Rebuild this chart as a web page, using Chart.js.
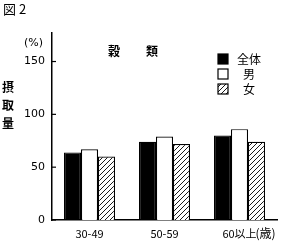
<!DOCTYPE html>
<html>
<head>
<meta charset="utf-8">
<script src="https://cdn.jsdelivr.net/npm/chart.js@4"></script>
<style>
  html, body { margin: 0; padding: 0; background: #fff; }
  #wrap { width: 283px; height: 241px; }
</style>
</head>
<body>
<div id="wrap"><canvas id="chart" width="283" height="241"></canvas></div>
<script>
const categories = ['30-49', '50-59', '60以上'];
const seriesNames = ['全体', '男', '女'];
const totalValues = [64, 74, 80];
const maleValues = [67, 79, 86];
const femaleValues = [60, 72, 74];
const yTicks = [0, 50, 100, 150];

const jpFont = "'Noto Sans CJK JP', sans-serif";
const numFont = "'DejaVu Sans', sans-serif";

// diagonal hatch for 女
const makeHatch = () => {
    const c = document.createElement('canvas');
    c.width = 5; c.height = 5;
    const g = c.getContext('2d');
    g.fillStyle = '#fff';
    g.fillRect(0, 0, 5, 5);
    g.strokeStyle = '#000';
    g.lineWidth = 0.9;
    g.beginPath();
    g.moveTo(0, 5); g.lineTo(5, 0);
    g.moveTo(-1, 1); g.lineTo(1, -1);
    g.moveTo(4, 6); g.lineTo(6, 4);
    g.stroke();
    return document.getElementById('chart').getContext('2d').createPattern(c, 'repeat');
};
const hatch = makeHatch();
const fills = ['#000', '#fff', hatch];

const decorPlugin = {
    id: 'decor',
    afterDraw(chart) {
        const ctx = chart.ctx;
        const y = chart.scales.y;
        const x = chart.scales.x;
        const area = chart.chartArea;
        ctx.save();
        ctx.fillStyle = '#000';
        ctx.strokeStyle = '#000';

        // inward tick marks
        ctx.lineWidth = 1.2;
        yTicks.forEach(v => {
            const py = y.getPixelForValue(v);
            ctx.beginPath();
            ctx.moveTo(area.left, py);
            ctx.lineTo(area.left + 4, py);
            ctx.stroke();
        });

        ctx.textBaseline = 'middle';
        ctx.textAlign = 'left';
        ctx.font = '13px ' + jpFont;
        ctx.fillText('図 2', 3, 9);

        ctx.font = '11px ' + numFont;
        ctx.fillText('(%)', 24, 43);

        ctx.font = 'bold 12px ' + jpFont;
        ctx.textAlign = 'center';
        ctx.fillText('穀', 114, 51);
        ctx.fillText('類', 152, 51);

        ['摂', '取', '量'].forEach((ch, i) => ctx.fillText(ch, 8, 87 + i * 18));

        // "(歳)" after last category
        ctx.font = '12px ' + jpFont;
        ctx.textAlign = 'left';
        ctx.fillText('(歳)', x.getPixelForValue(2) + 16, 233);

        // legend
        seriesNames.forEach((name, i) => {
            const ly = 54 + i * 15;
            ctx.fillStyle = fills[i];
            ctx.fillRect(218, ly, 10, 10);
            ctx.lineWidth = 1.2;
            ctx.strokeRect(218, ly, 10, 10);
            ctx.fillStyle = '#000';
            ctx.textAlign = 'center';
            ctx.font = '12px ' + jpFont;
            ctx.fillText(name, 249, ly + 5);
        });
        ctx.restore();
    }
};

const mkSet = (label, data, i) => ({
    label: label,
    data: data,
    backgroundColor: fills[i],
    borderColor: '#000',
    borderWidth: 1.2,
    borderSkipped: 'bottom',
    categoryPercentage: 0.68,
    barPercentage: 1.0
});

new Chart(document.getElementById('chart'), {
    type: 'bar',
    data: {
        labels: categories,
        datasets: [
            mkSet(seriesNames[0], totalValues, 0),
            mkSet(seriesNames[1], maleValues, 1),
            mkSet(seriesNames[2], femaleValues, 2)
        ]
    },
    options: {
        responsive: false,
        animation: false,
        layout: { padding: { top: 33, right: 6, left: 0, bottom: 0 } },
        plugins: {
            legend: { display: false },
            tooltip: { enabled: false }
        },
        scales: {
            y: {
                min: 0,
                max: 177,
                afterBuildTicks: (scale) => { scale.ticks = yTicks.map(v => ({ value: v })); },
                afterFit: (scale) => { scale.width = 52; },
                grid: { display: false, drawTicks: false },
                border: { color: '#000', width: 1.5 },
                ticks: {
                    color: '#000',
                    padding: 7,
                    font: { family: numFont, size: 11 }
                }
            },
            x: {
                afterFit: (scale) => { scale.height = 21; },
                grid: { display: false, drawTicks: false },
                border: { color: '#000', width: 1.5 },
                ticks: {
                    color: '#000',
                    padding: 7,
                    font: { family: jpFont, size: 11 }
                }
            }
        }
    },
    plugins: [decorPlugin]
});
</script>
</body>
</html>
